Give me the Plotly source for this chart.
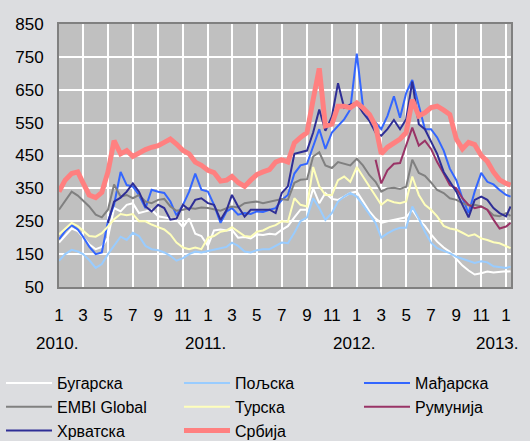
import plotly.graph_objects as go

# ---- data (semi-monthly readings, basis points) ----
DATES = [f"{y}-{m:02d}-{d:02d}" for y in (2010, 2011, 2012)
         for m in range(1, 13) for d in (1, 16)] + ["2013-01-01", "2013-01-12"]

bugarska = [185, 205, 228, 220, 200, 180, 165, 172, 200, 290,
            280, 300, 305, 275, 280, 285, 265, 262, 258, 255,
            232, 258, 212, 205, 175, 222, 225, 222, 224, 200,
            202, 198, 210, 208, 212, 210, 224, 235, 262, 285,
            285, 350, 305, 336, 318, 315, 325, 336, 340, 312,
            280, 258, 245, 250, 254, 258, 262, 285, 255, 236,
            210, 188, 170, 157, 135, 115, 100, 88, 92, 97,
            94, 96, 98, 97]

poljska = [130, 150, 163, 158, 150, 132, 108, 120, 150, 175,
           203, 193, 215, 205, 175, 165, 162, 155, 145, 130,
           138, 150, 158, 155, 160, 165, 168, 172, 185, 175,
           158, 155, 162, 165, 165, 175, 185, 183, 215, 250,
           262, 320, 290, 254, 275, 310, 325, 336, 325, 300,
           270, 245, 200, 213, 224, 230, 230, 295, 258, 218,
           185, 168, 160, 153, 142, 135, 128, 123, 128, 125,
           113, 110, 108, 112]

madjarska = [195, 220, 238, 225, 203, 173, 150, 155, 250, 300,
             400, 360, 356, 330, 290, 346, 340, 336, 310, 268,
             300, 340, 395, 346, 340, 300, 245, 280, 290, 270,
             275, 272, 280, 278, 285, 290, 315, 330, 395, 420,
             425, 480, 530, 470, 520, 540, 560, 590, 760, 600,
             560, 550, 530, 570, 630, 565, 640, 680, 600, 530,
             530, 505, 465, 410, 375, 320, 275, 340, 397, 370,
             362, 345, 330, 325]

embi = [285, 310, 340, 328, 312, 295, 270, 262, 285, 362,
        325, 330, 320, 330, 310, 305, 315, 318, 295, 282,
        285, 290, 288, 292, 290, 285, 282, 290, 295, 292,
        305, 308, 310, 305, 310, 315, 318, 315, 367, 376,
        378, 447, 460, 420, 412, 430, 425, 420, 440, 420,
        390, 370, 340, 350, 352, 348, 355, 437, 397, 388,
        368, 345, 336, 320, 315, 305, 298, 300, 295, 285,
        268, 265, 275, 266]

turska = [210, 228, 245, 235, 222, 205, 203, 214, 234, 256,
          272, 268, 272, 250, 250, 240, 232, 225, 210, 185,
          170, 165, 170, 165, 200, 205, 218, 222, 232, 220,
          205, 203, 218, 222, 232, 238, 250, 248, 320, 300,
          295, 415, 356, 330, 330, 375, 386, 370, 415, 386,
          355, 325, 300, 315, 308, 305, 310, 386, 330, 300,
          285, 265, 236, 228, 224, 215, 205, 210, 198, 193,
          186, 183, 175, 168]

rumunija = [None] * 51 + [437, 365, 405, 425, 427, 480, 535, 480, 495,
                          470, 430, 395, 360, 350, 320, 300, 290, 295, 285,
                          255, 228, 234, 245]

hrvatska = [None] * 8 + [245, 310,
            322, 340, 365, 340, 295, 280, 300, 290, 255, 258,
            300, 285, 315, 320, 305, 300, 254, 285, 330, 295,
            264, 285, 285, 285, 285, 275, 336, 356, 455, 460,
            465, 520, 590, 525, 569, 670, 595, 605, 610, 580,
            555, 520, 510, 530, 558, 530, 560, 675, 545, 530,
            490, 455, 400, 370, 340, 300, 262, 315, 325, 315,
            290, 275, 265, 295]

srbija = [340, 375, 395, 400, 367, 330, 322, 338, 400, 495,
          455, 465, 447, 458, 468, 475, 480, 490, 500, 485,
          465, 455, 430, 420, 405, 398, 372, 375, 386, 368,
          356, 375, 392, 400, 407, 430, 437, 430, 488, 505,
          520, 620, 715, 540, 545, 600, 600, 595, 610, 595,
          575, 540, 455, 475, 490, 500, 520, 620, 570, 580,
          596, 600, 588, 575, 500, 470, 490, 483, 450, 432,
          400, 376, 365, 360]

TICK_DATES = [f"{y}-{m:02d}-01" for y in (2010, 2011, 2012) for m in range(1, 13, 2)] + ["2013-01-01"]
TICK_TEXT = ["1", "3", "5", "7", "9", "11"] * 3 + ["1"]
YEAR_DATES = ["2010-01-01", "2011-01-01", "2012-01-01", "2013-01-01"]
YEAR_TEXT = ["2010.", "2011.", "2012.", "2013."]
Y_TICKS = list(range(50, 851, 100))

# ---- styling ----
FONT = "Liberation Sans, Arial, sans-serif"
series = [
    ("Бугарска", bugarska, "#ffffff", 2, "legend"),
    ("Пољска", poljska, "#99ccff", 2, "legend2"),
    ("Мађарска", madjarska, "#3366ff", 2, "legend3"),
    ("EMBI Global", embi, "#808080", 2, "legend"),
    ("Турска", turska, "#ffffbb", 2, "legend2"),
    ("Румунија", rumunija, "#993366", 2, "legend3"),
    ("Хрватска", hrvatska, "#2e2e96", 2, "legend"),
    ("Србија", srbija, "#ff8080", 5, "legend2"),
]

fig = go.Figure()
for name, vals, color, width, leg in series:
    fig.add_trace(go.Scatter(x=DATES, y=vals, name=name, mode="lines",
                             line=dict(color=color, width=width),
                             legend=leg, connectgaps=False))

W, H = 530, 441
ml, mr, mt, mb = 59, 19, 24, 154
pw, ph = W - ml - mr, H - mt - mb


def cx(px):
    return px / W


def cy(py):
    return 1 - py / H


def px_to_paper_y(py):
    return (H - mb - py) / ph


legend_common = dict(orientation="v", yanchor="top", xanchor="left",
                     xref="container", yref="container",
                     bgcolor="rgba(0,0,0,0)", itemwidth=46,
                     font=dict(family=FONT, size=16, color="#000000"),
                     tracegroupgap=0, traceorder="normal")

fig.update_layout(
    width=W, height=H,
    margin=dict(l=ml, r=mr, t=mt, b=mb, autoexpand=False),
    paper_bgcolor="#dcdde0",
    plot_bgcolor="#c0c0c0",
    font=dict(family=FONT, size=17, color="#000000"),
    showlegend=True,
    legend=dict(x=cx(1), y=cy(366), **legend_common),
    legend2=dict(x=cx(179), y=cy(366), **legend_common),
    legend3=dict(x=cx(359), y=cy(366), **legend_common),
    xaxis=dict(type="date", range=["2010-01-01", "2013-01-13"],
               tickmode="array", tickvals=TICK_DATES, ticktext=TICK_TEXT,
               showgrid=True, gridcolor="#ffffff", gridwidth=2,
               showline=True, linecolor="#808080", linewidth=2, mirror=True,
               ticks="", ticklabelstandoff=12,
               tickfont=dict(family=FONT, size=17, color="#000000")),
    yaxis=dict(range=[50, 850], tickmode="array", tickvals=Y_TICKS,
               showgrid=True, gridcolor="#ffffff", gridwidth=2,
               showline=True, linecolor="#808080", linewidth=2, mirror=True,
               zeroline=False, ticks="", ticklabelstandoff=10,
               tickfont=dict(family=FONT, size=17, color="#000000")),
)

for i, (d, t) in enumerate(zip(YEAR_DATES, YEAR_TEXT)):
    fig.add_annotation(x=d, y=px_to_paper_y(343), xref="x", yref="paper",
                       text=t, showarrow=False, xanchor="center", yanchor="middle",
                       xshift=-9 if i == len(YEAR_DATES) - 1 else -2,
                       font=dict(family=FONT, size=17, color="#000000"))

fig.write_html("out.html",
               config={"displayModeBar": False},
               post_script="document.body.style.margin='0px';"
                           "document.body.style.background='#dcdde0';")
